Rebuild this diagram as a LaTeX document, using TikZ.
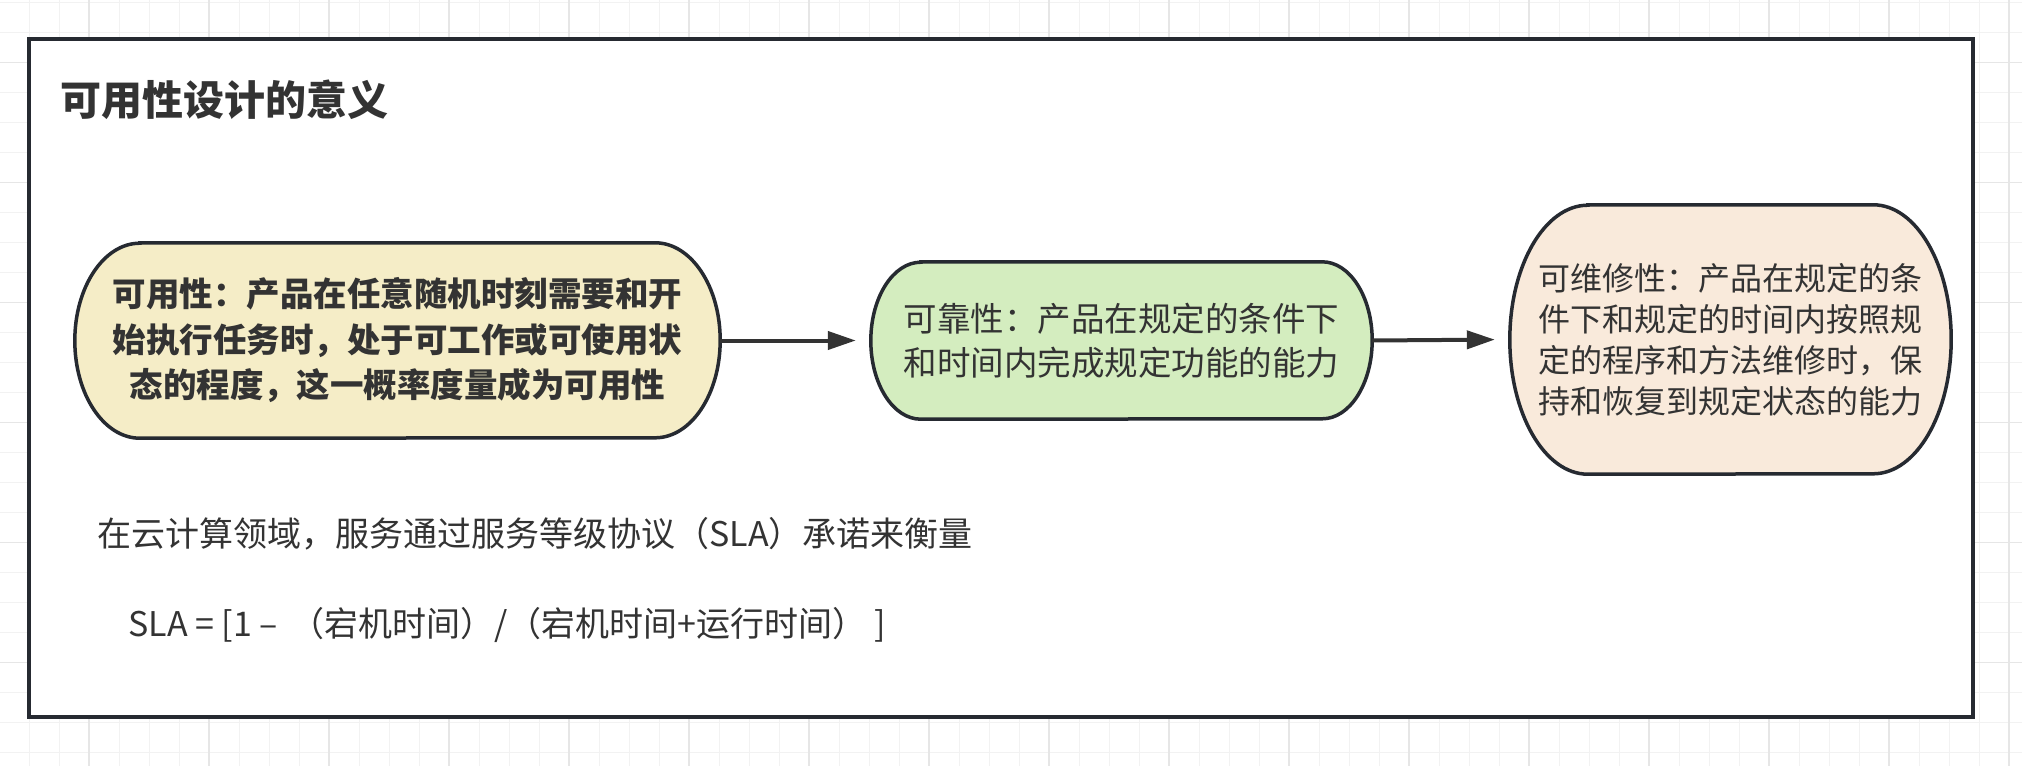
\documentclass[tikz,border=0pt]{standalone}
\usepackage{fontspec}
\setmainfont{Noto Sans CJK SC}
\usetikzlibrary{arrows.meta,calc}
\definecolor{ink}{HTML}{333333}
\definecolor{frame}{HTML}{262A31}
\definecolor{gridc}{HTML}{F2F2F2}
\definecolor{gridm}{HTML}{E6E6E6}
\definecolor{yel}{HTML}{F5EDC7}
\definecolor{grn}{HTML}{D4EDBF}
\definecolor{pch}{HTML}{F9EADB}
\pgfdeclarelayer{gridlayer}
\pgfdeclarelayer{shapelayer}
\pgfsetlayers{gridlayer,shapelayer,main}
\newcommand\capsule[4]{%
  \path[edge, fill=#4] ($(#1.north west)+(#2,0)$) -- ($(#1.north east)+(-#2,0)$)
    arc[start angle=90,end angle=-90,x radius=#2pt,y radius=#3pt]
    -- ($(#1.south west)+(#2,0)$)
    arc[start angle=270,end angle=90,x radius=#2pt,y radius=#3pt] -- cycle;}
\begin{document}
\begin{tikzpicture}[x=1pt,y=-1pt,
  txt/.style={inner sep=0pt, align=center, text=ink},
  edge/.style={draw=frame, line width=3.5pt},
  link/.style={draw=ink, line width=4pt, -{Triangle[length=28pt,width=18pt]}, shorten >=15pt}]
\useasboundingbox (0,0) rectangle (2022,766);
\begin{pgfonlayer}{gridlayer}
\fill[white] (0,0) rectangle (2022,766);
\foreach \i in {0,...,66} {\draw[gridc, line width=1.5pt] (29.5+30*\i,0) -- (29.5+30*\i,766);}
\foreach \i in {0,...,25} {\draw[gridc, line width=1.5pt] (0,2.7+30*\i) -- (2022,2.7+30*\i);}
\foreach \i in {0,...,16} {\draw[gridm, line width=1.5pt] (89+120*\i,0) -- (89+120*\i,766);}
\foreach \i in {0,...,6} {\draw[gridm, line width=1.5pt] (0,62.7+120*\i) -- (2022,62.7+120*\i);}
\node[draw=frame, fill=white, line width=3.4pt, minimum width=1944pt, minimum height=678pt, inner sep=0pt] (frame) at (1001,378) {};
\end{pgfonlayer}

\node[txt, anchor=west, font=\bfseries\fontsize{41}{49}\selectfont] (title) at (60,100) {可用性设计的意义};

\node[txt, minimum width=645pt, minimum height=195pt, font=\bfseries\fontsize{33.5}{45.5}\selectfont] (n1) at (397.5,340.5)
  {可用性：产品在任意随机时刻需要和开\\始执行任务时，处于可工作或可使用状\\态的程度，这一概率度量成为可用性};
\node[txt, minimum width=501pt, minimum height=157pt, font=\fontsize{33.5}{44}\selectfont] (n2) at (1121.5,340.5)
  {可靠性：产品在规定的条件下\\和时间内完成规定功能的能力};
\node[txt, minimum width=441pt, minimum height=269pt, font=\fontsize{32}{41}\selectfont] (n3) at (1730.5,339.5)
  {可维修性：产品在规定的条\\件下和规定的时间内按照规\\定的程序和方法维修时，保\\持和恢复到规定状态的能力};

\node[txt, anchor=west, font=\fontsize{34}{40}\selectfont] (t1) at (97,534)
  {在云计算领域，服务通过服务等级协议（SLA）承诺来衡量};
\node[txt, anchor=west, font=\fontsize{34}{40}\selectfont] (t2) at (128,625)
  {SLA = [1 – \hspace{5pt}（宕机时间）/（宕机时间+运行时间）\hspace{8pt}]};

\begin{pgfonlayer}{shapelayer}
\capsule{n1}{65}{97.5}{yel}
\capsule{n2}{50}{78.5}{grn}
\capsule{n3}{78}{134.5}{pch}
\end{pgfonlayer}

\draw[link] (n1.east) -- (n2.west);
\draw[link] (n2.east) -- (n3.west);
\end{tikzpicture}
\end{document}
